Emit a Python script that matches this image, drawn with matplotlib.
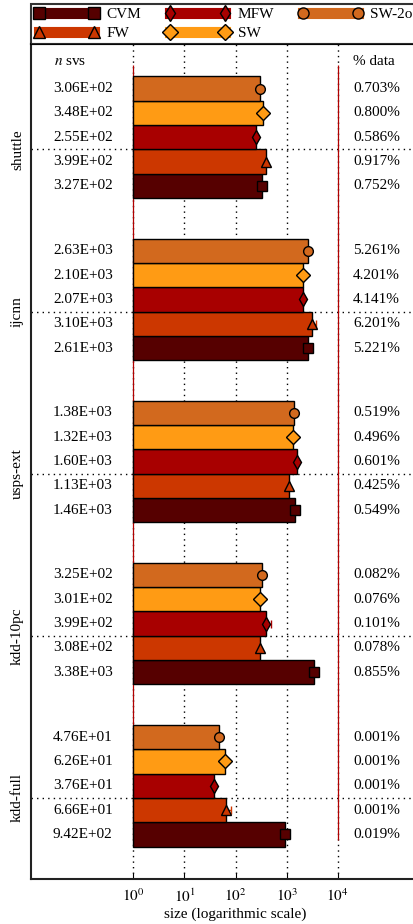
import numpy as np
import matplotlib.pyplot as plt
from matplotlib.lines import Line2D

plt.rcParams['font.family'] = ['Liberation Serif', 'DejaVu Serif']
plt.rcParams['mathtext.fontset'] = 'stix'
plt.rcParams['font.size'] = 11

# datasets, top to bottom
datasets = ['shuttle', 'ijcnn', 'usps-ext', 'kdd-10pc', 'kdd-full']
methods = ['CVM', 'FW', 'MFW', 'SW', 'SW-2o']
colors = ['#560000', '#cc3700', '#a80000', '#ff9b14', '#d2691e']
markers = ['s', '^', 'd', 'D', 'o']

# number of support vectors per method (CVM, FW, MFW, SW, SW-2o)
nsv_cvm = [327, 2610, 1460, 3380, 942]
nsv_fw = [399, 3100, 1130, 308, 66.6]
nsv_mfw = [255, 2070, 1600, 399, 37.6]
nsv_sw = [348, 2100, 1320, 301, 62.6]
nsv_sw2o = [306, 2630, 1380, 325, 47.6]

# standard deviation of the size
err_cvm = [0, 0, 0, 0, 100]
err_fw = [0, 600, 0, 0, 15]
err_mfw = [0, 0, 0, 100, 0]
err_sw = [0, 0, 0, 0, 10]
err_sw2o = [0, 0, 0, 0, 0]

# support vectors as percentage of the training data
pct_cvm = [0.752, 5.221, 0.549, 0.855, 0.019]
pct_fw = [0.917, 6.201, 0.425, 0.078, 0.001]
pct_mfw = [0.586, 4.141, 0.601, 0.101, 0.001]
pct_sw = [0.800, 4.201, 0.496, 0.076, 0.001]
pct_sw2o = [0.703, 5.261, 0.519, 0.082, 0.001]

nsv = [nsv_cvm, nsv_fw, nsv_mfw, nsv_sw, nsv_sw2o]
err = [err_cvm, err_fw, err_mfw, err_sw, err_sw2o]
pct = [pct_cvm, pct_fw, pct_mfw, pct_sw, pct_sw2o]

h = 0.15
ind = np.arange(len(datasets))[::-1].astype(float)

fig = plt.figure(figsize=(4.13, 9.24), dpi=100)
ax = fig.add_axes([31/413, 45/924, 409/413, 835/924])
ax.set_xscale('log')

for j in range(len(methods)):
    ys = ind + j*h
    vals = np.array(nsv[j])
    ax.barh(ys, vals - 1, left=1, height=h, align='edge', color=colors[j],
            edgecolor='black', linewidth=1, zorder=2)
    ax.errorbar(vals, ys + h/2, xerr=err[j], fmt=markers[j], color=colors[j],
                mfc=colors[j], mec='black', ms=7, capsize=3, elinewidth=1,
                zorder=3)
    for k in range(len(datasets)):
        ax.text(10**-1.57, ys[k] + h/2, '%.2E' % nsv[j][k], va='center', ha='left')
        ax.text(2e4, ys[k] + h/2, '%.3f%%' % pct[j][k], va='center', ha='left')

ax.vlines([1, 1e4], 0.04, 4.82, color='#b00000', lw=0.9, zorder=1.5)
ax.text(10**-1.55, 4.84, r'$n$ svs', va='center', ha='left')
ax.text(2e4, 4.84, '% data', va='center', ha='left')

ax.set_xlim(1e-2, 1e6)
ax.set_ylim(-0.2, 4.95)
ax.set_xticks([1, 10, 100, 1e3, 1e4])
ax.set_xticklabels([r'$10^{0}$', r'$10^{1}$', r'$10^{2}$', r'$10^{3}$', r'$10^{4}$'])
ax.xaxis.set_minor_locator(plt.NullLocator())
ax.set_yticks(ind + 2*h)
ax.set_yticklabels(datasets, rotation=90, va='center')
ax.tick_params(axis='y', length=0, pad=5)
ax.tick_params(axis='x', direction='in', length=4, pad=6)
ax.set_xlabel('size (logarithmic scale)', labelpad=2)
ax.grid(True, color='black', linestyle=(0, (1, 3)), linewidth=1)
ax.set_axisbelow(True)
for s in ax.spines.values():
    s.set_linewidth(1.5)
    s.set_color('#222222')

handles = [Line2D([0], [0], color=colors[j], lw=8, marker=markers[j], mfc=colors[j],
                  mec='black', ms=8) for j in range(len(methods))]
leg = ax.legend(handles, methods, loc='lower left', bbox_to_anchor=(0, 1),
                borderaxespad=0, ncol=3, numpoints=2, handlelength=4.2,
                handletextpad=0.5, columnspacing=1.6, labelspacing=0.35,
                borderpad=0.25, fancybox=False, edgecolor='black')
leg.get_frame().set_linewidth(1.5)

fig.savefig('out.png', dpi=100)
